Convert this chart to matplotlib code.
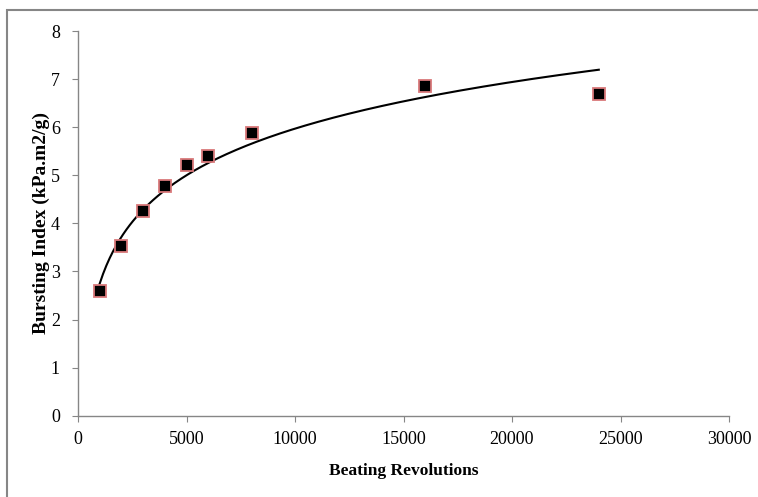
import numpy as np
import matplotlib
matplotlib.use("Agg")
import matplotlib.pyplot as plt
from matplotlib.patches import Rectangle

# beating revolutions vs bursting index
revolutions = [1000, 2000, 3000, 4000, 5000, 6000, 8000, 16000, 24000]
burst_index = [2.6, 3.52, 4.25, 4.77, 5.22, 5.40, 5.88, 6.85, 6.68]

x_ticks = [0, 5000, 10000, 15000, 20000, 25000, 30000]
y_ticks = [0, 1, 2, 3, 4, 5, 6, 7, 8]

plt.rcParams['font.family'] = ['Liberation Serif', 'DejaVu Serif']

fig = plt.figure(figsize=(7.58, 4.97), dpi=100)
ax = fig.add_axes([78 / 758, 1 - 415.7 / 497, (729 - 78) / 758, (415.7 - 31) / 497])

# outer chart border (right and bottom are cut off in the original)
fig.patches.append(Rectangle((7 / 758, -0.1), 1.1, 1 - 10 / 497 + 0.1,
                             transform=fig.transFigure, fill=False,
                             edgecolor='#868686', linewidth=1.5))

# logarithmic trendline
a, b = np.polyfit(np.log(revolutions), burst_index, 1)
xs = np.linspace(min(revolutions), max(revolutions), 300)
ax.plot(xs, a * np.log(xs) + b, color='black', linewidth=1.5, zorder=2)

ax.plot(revolutions, burst_index, linestyle='none', marker='s', markersize=9,
        markerfacecolor='black', markeredgecolor='#d9787a', markeredgewidth=1.3,
        zorder=3)

ax.set_xlim(0, 30000)
ax.set_ylim(0, 8)
ax.set_xticks(x_ticks)
ax.set_yticks(y_ticks)

for s in ['top', 'right']:
    ax.spines[s].set_visible(False)
for s in ['left', 'bottom']:
    ax.spines[s].set_color('#868686')
    ax.spines[s].set_linewidth(1)
ax.tick_params(direction='out', length=4, color='#868686', labelsize=13)
ax.tick_params(axis='x', pad=7)
ax.tick_params(axis='y', pad=9)

ax.set_xlabel('Beating Revolutions', fontsize=12.5, fontweight='bold', labelpad=11)
ax.set_ylabel('Bursting Index (kPa.m2/g)', fontsize=14, fontweight='bold')
ax.yaxis.set_label_coords(-(78 - 50) / 651, 0.5)

fig.savefig('out.png', dpi=100)
